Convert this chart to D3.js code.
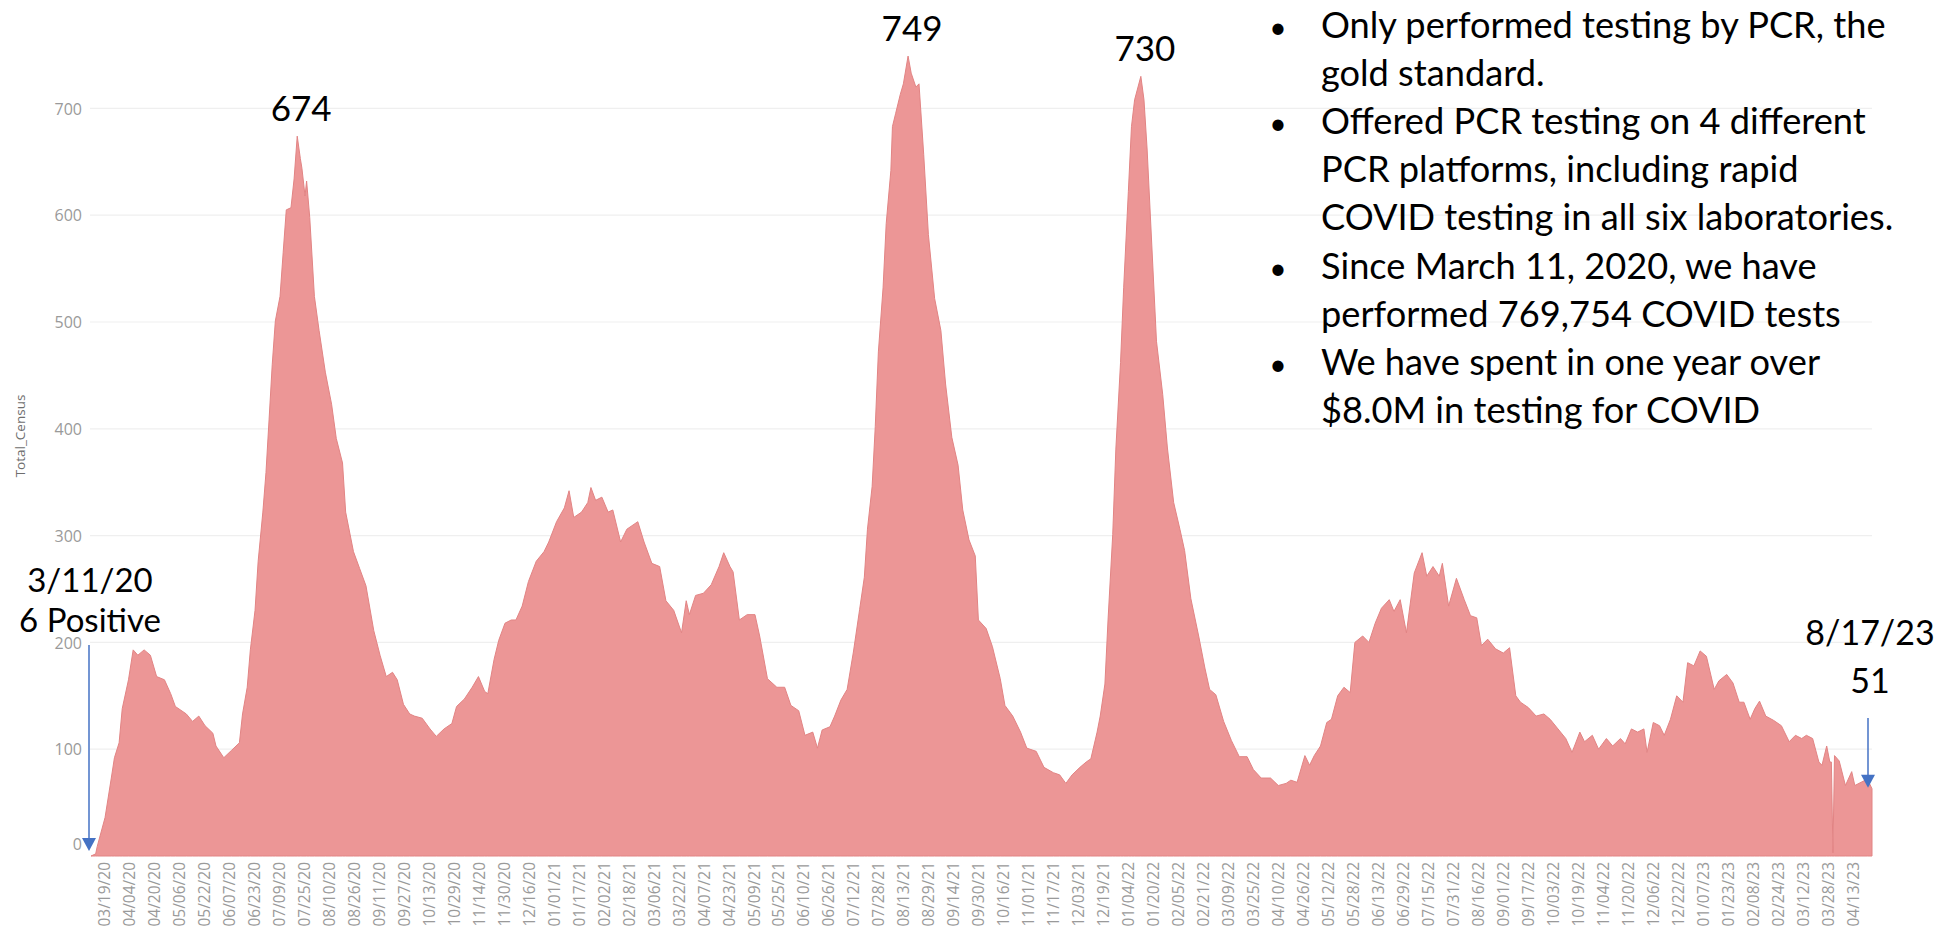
<!DOCTYPE html>
<html lang="en">
<head>
  <meta charset="UTF-8">
  <title>Total Census</title>
  <style>
    body { margin: 0; background: #fff; }
    svg { display: block; }
  </style>
</head>
<body>
  <svg id="chart"></svg>
  <script src="https://cdn.jsdelivr.net/npm/d3@7/dist/d3.min.js"></script>
  <script>
    // days since 3/11/20 and census
    const startDate = '2020-03-11'
    const dayIndex = [
      0, 3, 4, 9, 13, 15, 18, 20, 24, 27, 30, 34, 38, 42, 47, 51, 54, 61, 65, 69, 73, 78, 80, 85, 90, 95, 97, 100,
      102, 105, 107, 110, 112, 114, 116, 118, 121, 123, 125, 128, 130, 132, 134, 135, 137, 138, 140, 143, 146, 150,
      154, 157, 161, 163, 168, 172, 176, 181, 185, 189, 193, 196, 200, 204, 207, 212, 217, 221, 226, 231, 234, 239,
      244, 248, 252, 254, 258, 261, 265, 269, 272, 276, 280, 285, 290, 293, 298, 303, 306, 309, 314, 318, 320, 323,
      327, 331, 334, 339, 343, 350, 354, 359, 364, 368, 373, 378, 381,
      383, 387, 392, 397, 402, 405, 409, 411, 415, 420, 425, 428, 433, 439, 444, 448, 453, 457, 462, 465, 468, 473,
      476, 480, 484, 488, 492, 495, 497, 500, 502, 504, 507, 509, 512, 513, 515, 518, 520, 523, 525, 528, 530, 533,
      536, 540, 544, 547, 551, 555, 558, 562, 566, 568, 573, 577, 582, 585, 590, 595, 599, 605, 610, 616, 620, 624,
      628, 633, 637, 640, 644, 646, 649, 651, 654, 656, 659, 661, 664, 666, 668, 672, 674, 676, 679, 682, 686, 689,
      693, 697, 700, 704, 709, 713, 716, 720, 725, 730, 735, 740, 744, 749, 755,
      760, 765, 768, 772, 777, 780, 783, 787, 791, 794, 798, 802, 806, 809, 814, 818, 822, 826, 831, 834, 838, 842,
      847, 852, 855, 859, 863, 865, 869, 874, 879, 883, 887, 890, 894, 899, 904, 908, 912, 915, 920, 925, 930, 934,
      939, 944, 948, 953, 956, 961, 965, 970, 974, 979, 982, 986, 990, 994, 996, 1000, 1004, 1007, 1011, 1015, 1019,
      1022, 1026, 1030, 1034, 1039, 1042, 1047, 1051, 1055, 1058, 1062, 1065, 1068, 1072, 1077, 1082, 1087, 1091,
      1095, 1098, 1102, 1106, 1108, 1111, 1113, 1114, 1115, 1116, 1119, 1123, 1127, 1129, 1133, 1137, 1140
    ]
    const census = [
      0, 2, 9, 36, 73, 92, 106, 138, 165, 193, 188, 193, 188, 168, 165, 152, 140, 133, 126, 131, 122, 115, 103, 92, 99, 106, 133, 158,
      193, 230, 276, 322, 359, 409, 460, 501, 524, 565, 605, 607, 634, 674, 653, 644, 618, 632, 598, 524, 492, 453,
      423, 391, 368, 322, 285, 269, 253, 211, 188, 168, 172, 165, 142, 133, 131, 129, 119, 112, 119, 124, 140, 147,
      158, 168, 154, 152, 184, 202, 218, 221, 221, 234, 257, 276, 285, 294, 313, 326, 342, 317, 322, 331, 345, 333,
      336, 322, 324, 294, 306, 313, 294, 274, 271, 239, 230, 209, 239,
      226, 244, 246, 254, 271, 284, 271, 266, 221, 226, 226, 206, 166, 158, 158, 141, 136, 113, 116, 101, 118, 121,
      131, 146, 156, 191, 231, 261, 306, 346, 402, 472, 532, 592, 642, 683, 695, 713, 723, 749, 733, 720, 723, 657,
      582, 522, 492, 442, 392, 366, 324, 296, 281, 221, 213, 196, 166, 141, 131, 116, 101, 98, 83, 78, 76, 68,
      76, 83, 88, 91, 116, 131, 161, 221, 301, 381, 462, 532, 622, 683, 708, 730, 708, 662, 572, 482, 432, 382,
      331, 306, 286, 241, 206, 176, 156, 151, 126, 108, 93, 93, 81, 73, 73,
      66, 68, 71, 69, 94, 85, 94, 103, 125, 128, 150, 158, 153, 200, 206, 200, 218, 232, 240, 229, 240, 209,
      265, 284, 262, 271, 262, 274, 234, 260, 240, 225, 223, 197, 203, 194, 190, 195, 150, 144, 139, 131, 133, 128,
      119, 110, 97, 116, 107, 113, 100, 110, 103, 110, 105, 119, 116, 119, 97, 125, 122, 113, 128, 150, 144,
      181, 178, 192, 187, 156, 164, 170, 162, 144, 144, 128, 138, 145, 131, 127, 122, 107, 113,
      110, 113, 110, 88, 85, 103, 88, 88, 3, 94, 89, 66, 79, 66, 69, 72, 63
    ]
    const tickLabels = [
      '03/19/20', '04/04/20', '04/20/20', '05/06/20', '05/22/20', '06/07/20', '06/23/20', '07/09/20', '07/25/20',
      '08/10/20', '08/26/20', '09/11/20', '09/27/20', '10/13/20', '10/29/20', '11/14/20', '11/30/20', '12/16/20',
      '01/01/21', '01/17/21', '02/02/21', '02/18/21', '03/06/21', '03/22/21', '04/07/21', '04/23/21', '05/09/21',
      '05/25/21', '06/10/21', '06/26/21', '07/12/21', '07/28/21', '08/13/21', '08/29/21', '09/14/21', '09/30/21',
      '10/16/21', '11/01/21', '11/17/21', '12/03/21', '12/19/21', '01/04/22', '01/20/22', '02/05/22', '02/21/22',
      '03/09/22', '03/25/22', '04/10/22', '04/26/22', '05/12/22', '05/28/22', '06/13/22', '06/29/22', '07/15/22',
      '07/31/22', '08/16/22', '09/01/22', '09/17/22', '10/03/22', '10/19/22', '11/04/22', '11/20/22', '12/06/22',
      '12/22/22', '01/07/23', '01/23/23', '02/08/23', '02/24/23', '03/12/23', '03/28/23', '04/13/23'
    ]
    const yTicks = [0, 100, 200, 300, 400, 500, 600, 700]
    const peakLabels = ['674', '749', '730']
    const bullets = [
      ['Only performed testing by PCR, the', 'gold standard.'],
      ['Offered PCR testing on 4 different', 'PCR platforms, including rapid', 'COVID testing in all six laboratories.'],
      ['Since March 11, 2020, we have', 'performed 769,754 COVID tests'],
      ['We have spent in one year over', '$8.0M in testing for COVID']
    ]
    const startNote = ['3/11/20', '6 Positive']
    const endNote = ['8/17/23', '51']

    let svgWidth = 1936, svgHeight = 927
    let svg = d3.select('#chart')
      .attr('width', svgWidth)
      .attr('height', svgHeight)

    let parse = d3.timeParse('%Y-%m-%d')
    let fmt = d3.timeParse('%m/%d/%y')
    let start = parse(startDate)
    let data = dayIndex.map((d, i) => ({ date: d3.timeDay.offset(start, d), value: census[i] }))
    let last = data[data.length - 1]

    let x = d3.scaleTime()
      .domain([start, last.date])
      .range([91, 1872])
    let y = d3.scaleLinear()
      .domain([0, 700])
      .range([856, 108.4])

    let axisFont = "'Open Sans', sans-serif"
    let noteFont = "Lato, 'Noto Sans', sans-serif"

    // gridlines
    svg.append('g')
      .selectAll('line')
      .data(yTicks.filter(t => t > 0))
      .enter()
      .append('line')
      .attr('x1', 90).attr('x2', 1872)
      .attr('y1', d => y(d)).attr('y2', d => y(d))
      .attr('stroke', '#efefef')
      .attr('stroke-width', 1.2)

    // y axis labels
    let yAxis = svg.append('g')
      .attr('transform', 'translate(82,0)')
      .call(d3.axisLeft(y).tickValues(yTicks).tickSize(0).tickPadding(0))
    yAxis.select('.domain').remove()
    yAxis.selectAll('text')
      .attr('fill', '#9a9a9a')
      .attr('font-family', axisFont)
      .attr('font-size', 16)
      .attr('dy', d => d === 0 ? '-0.4em' : '0.35em')

    svg.append('text')
      .attr('transform', 'translate(25,436) rotate(-90)')
      .attr('text-anchor', 'middle')
      .attr('fill', '#6e6e6e')
      .attr('font-family', axisFont)
      .attr('font-size', 13.5)
      .text('Total_Census')

    // area
    let area = d3.area()
      .x(d => x(d.date))
      .y0(y(0))
      .y1(d => y(d.value))
    svg.append('path')
      .datum(data)
      .attr('d', area)
      .attr('fill', '#ec9696')
      .attr('stroke', '#e28484')
      .attr('stroke-width', 1)

    // x axis labels
    let xAxis = svg.append('g')
      .attr('transform', 'translate(0,862)')
      .call(d3.axisBottom(x).tickValues(tickLabels.map(fmt)).tickFormat(d3.timeFormat('%m/%d/%y')).tickSize(0).tickPadding(0))
    xAxis.select('.domain').remove()
    xAxis.selectAll('text')
      .attr('transform', 'rotate(-90)')
      .attr('text-anchor', 'end')
      .attr('x', 0).attr('y', 0)
      .attr('dy', '0.36em')
      .attr('fill', '#9a9a9a')
      .attr('font-family', axisFont)
      .attr('font-size', 15.5)

    // peak labels
    let peaks = peakLabels.map(p => data.find(d => d.value === +p))
    svg.append('g')
      .selectAll('text')
      .data(peaks)
      .enter()
      .append('text')
      .attr('x', d => x(d.date) + 4)
      .attr('y', d => y(d.value) - 15)
      .attr('text-anchor', 'middle')
      .attr('font-family', noteFont)
      .attr('font-size', 35)
      .text(d => d.value)

    // start / end notes with arrows
    function arrow(px, y1, y2) {
      svg.append('line')
        .attr('x1', px).attr('x2', px)
        .attr('y1', y1).attr('y2', y2 - 12)
        .attr('stroke', '#4472c4')
        .attr('stroke-width', 1.5)
      svg.append('path')
        .attr('d', `M${px - 7},${y2 - 13}L${px + 7},${y2 - 13}L${px},${y2}Z`)
        .attr('fill', '#4472c4')
    }
    let sx = x(start) - 2
    arrow(sx, 645, y(0) - 5)
    svg.append('g')
      .selectAll('text')
      .data(startNote)
      .enter()
      .append('text')
      .attr('x', sx + 1)
      .attr('y', (d, i) => 592 + i * 40)
      .attr('text-anchor', 'middle')
      .attr('font-family', noteFont)
      .attr('font-size', 33)
      .text(d => d)

    let ex = x(last.date) - 4
    arrow(ex, 718, y(last.value) - 1)
    svg.append('g')
      .selectAll('text')
      .data(endNote)
      .enter()
      .append('text')
      .attr('x', ex + 2)
      .attr('y', (d, i) => 645 + i * 48)
      .attr('text-anchor', 'middle')
      .attr('font-family', noteFont)
      .attr('font-size', 34)
      .text(d => d)

    // bullet text block
    let lines = []
    bullets.forEach(b => b.forEach((t, j) => lines.push({ text: t, first: j === 0 })))
    let block = svg.append('g')
      .attr('font-family', noteFont)
      .attr('font-size', 36.2)
    let row = block.selectAll('g')
      .data(lines)
      .enter()
      .append('g')
      .attr('transform', (d, i) => `translate(0,${38 + i * 48.1})`)
    row.filter(d => d.first)
      .append('text')
      .attr('x', 1278)
      .attr('text-anchor', 'middle')
      .attr('font-size', 30)
      .text('•')
    row.append('text')
      .attr('x', 1321)
      .text(d => d.text)
  </script>
</body>
</html>
